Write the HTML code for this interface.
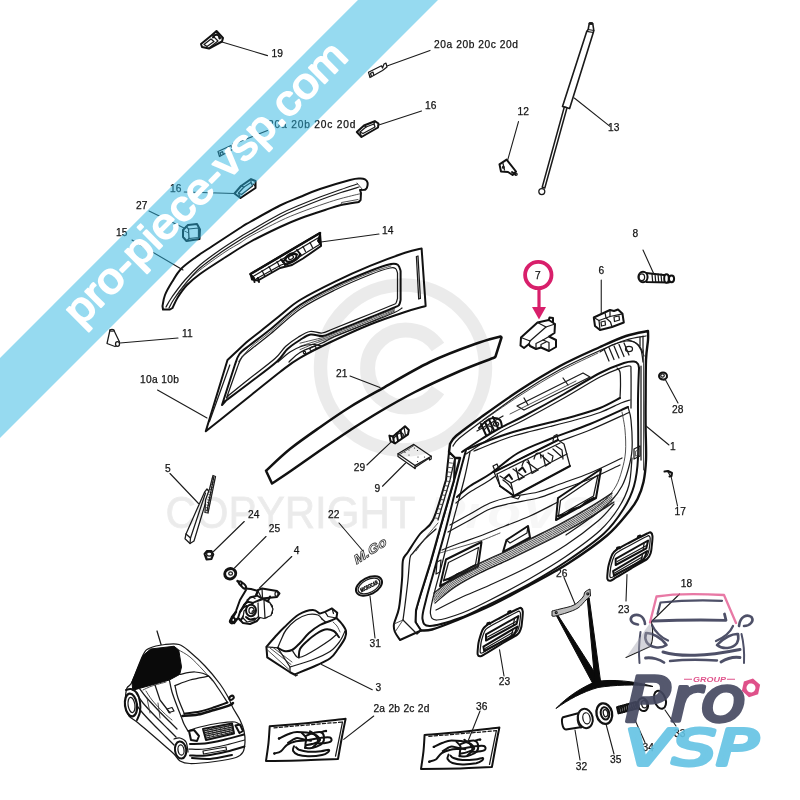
<!DOCTYPE html>
<html><head><meta charset="utf-8"><title>pro-piece-vsp.com</title>
<style>
html,body{margin:0;padding:0;background:#fff;}
body{width:800px;height:800px;overflow:hidden;font-family:"Liberation Sans",sans-serif;}
svg{display:block;filter:blur(0.4px)}
.l{fill:none;stroke:#1a1a1a;stroke-width:1.25;stroke-linejoin:round;stroke-linecap:round}
.lw{fill:#fff;stroke:#1a1a1a;stroke-width:1.25;stroke-linejoin:round;stroke-linecap:round}
.l2{fill:none;stroke:#111;stroke-width:2;stroke-linejoin:round;stroke-linecap:round}
.l2w{fill:#fff;stroke:#111;stroke-width:2;stroke-linejoin:round;stroke-linecap:round}
.l3{fill:none;stroke:#111;stroke-width:2.5;stroke-linejoin:round;stroke-linecap:round}
.th{fill:none;stroke:#333;stroke-width:0.85;stroke-linejoin:round;stroke-linecap:round}
.ld{fill:none;stroke:#1c1c1c;stroke-width:1.1;stroke-linecap:round}
.g{fill:#bdbdbd;stroke:#1a1a1a;stroke-width:1;stroke-linejoin:round}
.bk{fill:#0a0a0a;stroke:#0a0a0a;stroke-width:1;stroke-linejoin:round}
.t{font-family:"Liberation Sans",sans-serif;font-size:10.2px;fill:#141414;stroke:#141414;stroke-width:0.25px}
.wm{font-family:"Liberation Sans",sans-serif;fill:#e4e4e4}
.nv{fill:none;stroke:#3b3e58;stroke-linecap:round;stroke-linejoin:round}
</style></head><body>
<svg width="800" height="800" viewBox="0 0 800 800">
<rect width="800" height="800" fill="#fff"/>
<g id="p15">
<path class="l2w" d="M162.5,306.0 C162.9,304.2 163.4,299.0 165.0,295.0 C166.6,291.0 169.3,286.3 172.0,282.0 C174.7,277.7 177.0,273.2 181.0,269.0 C185.0,264.8 190.8,260.8 196.0,257.0 C201.2,253.2 205.2,250.8 212.5,246.0 C219.8,241.2 233.8,232.0 240.0,228.0 C246.2,224.0 243.3,225.8 250.0,222.0 C256.7,218.2 271.7,209.7 280.0,205.5 C288.3,201.3 293.3,199.8 300.0,197.0 C306.7,194.2 311.7,191.8 320.0,189.0 C328.3,186.2 343.3,181.8 350.0,180.0 C356.7,178.2 357.5,178.6 360.0,178.5 C362.5,178.4 363.8,178.7 365.0,179.4 C366.2,180.1 367.2,181.2 367.5,182.5 C367.8,183.8 367.4,186.3 367.0,187.5 C366.6,188.7 365.3,189.4 365.0,189.8 L360,190 L361,193 L360.6,200 L358.75,202 L358.8,202.0 C355.8,202.5 346.6,203.7 341.0,205.0 C335.4,206.3 331.8,207.8 325.0,210.0 C318.2,212.2 307.5,215.7 300.0,218.5 C292.5,221.3 288.3,223.1 280.0,227.0 C271.7,230.9 259.2,236.9 250.0,242.0 C240.8,247.1 233.3,252.2 225.0,257.5 C216.7,262.8 206.3,269.4 200.0,274.0 C193.7,278.6 190.7,281.2 187.0,285.0 C183.3,288.8 180.4,293.2 178.0,297.0 C175.6,300.8 173.4,306.2 172.5,308.0 L170,309.5 L163,309.5 L162.5,306Z" />
<path class="l" d="M357.5,184.0 C354.8,184.9 347.2,187.3 341.0,189.5 C334.8,191.7 326.8,194.4 320.0,197.0 C313.2,199.6 306.7,202.2 300.0,205.0 C293.3,207.8 288.3,209.7 280.0,214.0 C271.7,218.3 256.7,227.2 250.0,231.0 C243.3,234.8 245.0,233.8 240.0,237.0 C235.0,240.2 226.7,245.3 220.0,250.0 C213.3,254.7 205.8,260.0 200.0,265.0 C194.2,270.0 189.7,274.7 185.0,280.0 C180.3,285.3 175.2,292.5 172.0,297.0 C168.8,301.5 167.0,305.3 166.0,307.0" />
<path class="l" d="M359.0,187.0 C356.0,187.9 347.5,190.3 341.0,192.5 C334.5,194.7 326.8,197.4 320.0,200.0 C313.2,202.6 306.7,205.2 300.0,208.0 C293.3,210.8 288.3,212.7 280.0,217.0 C271.7,221.3 256.7,230.2 250.0,234.0 C243.3,237.8 245.0,236.8 240.0,240.0 C235.0,243.2 226.7,248.3 220.0,253.0 C213.3,257.7 205.7,263.0 200.0,268.0 C194.3,273.0 190.3,277.8 186.0,283.0 C181.7,288.2 176.8,294.8 174.0,299.0 C171.2,303.2 169.8,306.5 169.0,308.0" />
<path class="th" d="M360.0,193.8 C356.8,194.5 346.8,196.9 341.0,198.5 C335.2,200.1 331.8,201.2 325.0,203.5 C318.2,205.8 307.5,209.6 300.0,212.5 C292.5,215.4 288.3,217.0 280.0,221.0 C271.7,225.0 256.7,232.8 250.0,236.5 C243.3,240.2 244.2,240.4 240.0,243.0 C235.8,245.6 231.7,247.5 225.0,252.0 C218.3,256.5 206.3,265.0 200.0,270.0 C193.7,275.0 190.8,277.8 187.0,282.0 C183.2,286.2 178.7,292.8 177.0,295.0" />
<path class="th" d="M357.0,183.0 L362.5,189.5" />
<path class="th" d="M341.0,205.0 L341.5,202.5 L358.0,199.5" />
</g>
<g id="p10">
<path class="l2w" d="M205.75,431.25 L227.5,360 L235.0,353.0 C237.2,351.0 243.5,344.8 248.0,341.0 C252.5,337.2 256.7,334.2 262.0,330.0 C267.3,325.8 273.7,320.5 280.0,315.5 C286.3,310.5 290.8,305.6 300.0,300.0 C309.2,294.4 323.3,287.3 335.0,281.6 C346.7,275.9 358.3,270.7 370.0,265.9 C381.7,261.1 396.4,255.7 405.0,252.8 C413.6,249.8 418.8,249.1 421.6,248.4 L425.65,306 L425.6,306.0 C422.2,307.0 414.3,308.9 405.0,312.0 C395.7,315.1 381.7,319.8 370.0,324.5 C358.3,329.2 346.7,334.5 335.0,340.0 C323.3,345.5 309.2,352.4 300.0,357.8 C290.8,363.1 288.3,365.6 280.0,372.0 C271.7,378.4 259.2,388.7 250.0,396.0 C240.8,403.3 232.4,410.1 225.0,416.0 C217.6,421.9 209.0,428.7 205.8,431.2Z" />
<path class="l" d="M229.8,365.0 L209.5,421.5" />
<path class="l2" d="M235.0,364.5 C235.8,362.8 237.0,357.2 239.5,354.0 C242.0,350.8 245.0,349.0 250.0,345.0 C255.0,341.0 261.2,336.7 269.5,330.0 C277.8,323.3 289.1,312.3 300.0,305.0 C310.9,297.7 323.3,291.7 335.0,286.0 C346.7,280.3 360.7,274.7 370.0,271.0 C379.3,267.3 386.3,265.0 391.0,264.0 C395.7,263.0 396.4,263.8 398.0,265.0 C399.6,266.2 400.2,270.0 400.6,271.0 L400.6,300 L400.6,300.0 C400.3,300.8 400.0,303.8 399.0,305.0 C398.0,306.2 399.3,305.4 394.5,307.5 C389.7,309.6 379.9,313.5 370.0,317.5 C360.1,321.5 342.9,328.4 335.0,331.5 C327.1,334.6 326.8,335.5 322.8,336.0 C318.7,336.5 314.3,333.8 310.5,334.5 C306.7,335.2 303.8,337.6 300.0,340.0 C296.2,342.4 291.3,345.4 287.5,349.0 C283.7,352.6 283.2,355.9 277.0,361.5 C270.8,367.1 258.5,376.0 250.0,382.5 C241.5,389.0 230.0,397.5 226.0,400.5 L222,405 L235,364.5Z" />
<path class="l" d="M237.5,367.0 C238.2,365.3 239.6,360.1 242.0,357.0 C244.4,353.9 247.2,352.4 252.0,348.5 C256.8,344.6 262.8,340.2 271.0,333.5 C279.2,326.8 290.2,315.8 301.0,308.5 C311.8,301.2 324.4,295.2 336.0,289.5 C347.6,283.8 361.5,278.1 370.5,274.5 C379.5,270.9 385.8,269.0 390.0,268.0 C394.2,267.0 394.2,267.7 395.5,268.5 C396.8,269.3 397.2,272.2 397.5,273.0 L397.5,298.5 L397.5,298.5 C397.2,299.2 396.8,301.9 396.0,303.0 C395.2,304.1 397.0,303.1 392.5,305.0 C388.0,306.9 378.8,310.6 369.0,314.5 C359.2,318.4 341.8,325.4 334.0,328.5 C326.2,331.6 326.0,332.5 322.0,333.0 C318.0,333.5 313.9,330.8 310.0,331.5 C306.1,332.2 302.6,334.5 298.5,337.0 C294.4,339.5 289.4,342.9 285.5,346.5 C281.6,350.1 281.1,353.1 275.0,358.5 C268.9,363.9 256.8,372.8 249.0,379.0 C241.2,385.2 231.9,392.8 228.5,395.5 L226.5,398 L237.5,367Z" />
<path class="th" d="M238.5,361.5 C240.6,359.1 245.7,351.9 251.0,347.0 C256.3,342.1 262.2,338.5 270.5,331.8 C278.8,325.1 289.7,314.1 300.5,306.8 C311.3,299.5 323.9,293.5 335.5,287.8 C347.1,282.1 360.9,276.4 370.2,272.8 C379.4,269.2 387.5,267.1 391.0,266.0" />
<path class="th" d="M300.0,343.2 C302.0,342.7 308.2,341.1 312.0,340.2 C315.8,339.2 318.9,338.7 322.8,337.5 C326.6,336.3 327.1,336.1 335.0,333.0 C342.9,329.9 360.1,323.1 370.0,319.0 C379.9,314.9 390.4,310.4 394.5,308.7" />
<path class="th" d="M300.0,346.4 C302.0,345.7 308.2,343.6 312.0,342.4 C315.8,341.2 318.9,340.3 322.8,339.0 C326.6,337.7 327.1,337.6 335.0,334.5 C342.9,331.4 360.1,324.6 370.0,320.5 C379.9,316.4 390.4,311.7 394.5,309.9" />
<path class="th" d="M300.0,349.6 C302.0,348.8 308.2,346.1 312.0,344.6 C315.8,343.1 318.9,341.9 322.8,340.5 C326.6,339.1 327.1,339.1 335.0,336.0 C342.9,332.9 360.1,326.1 370.0,322.0 C379.9,317.9 390.4,312.9 394.5,311.1" />
<path class="l" d="M289.0,362.0 C290.8,360.4 294.5,355.7 300.0,352.5 C305.5,349.3 316.2,345.7 322.0,343.0 C327.8,340.3 327.0,339.9 335.0,336.5 C343.0,333.1 360.1,326.5 370.0,322.5 C379.9,318.5 389.2,314.9 394.5,312.5 C399.8,310.1 400.8,308.8 402.0,308.0" />
<path class="l" d="M278.0,362.0 C280.0,360.3 286.2,354.6 290.0,352.0 C293.8,349.4 297.3,347.8 301.0,346.5 C304.7,345.2 308.5,344.6 312.0,344.5 C315.5,344.4 320.3,345.8 322.0,346.0" />
<ellipse cx="313" cy="348.5" rx="3.2" ry="1.8" class="l" transform="rotate(-20 313 348.5)"/>
<circle cx="304.5" cy="352.5" r="1.2" class="l"/>
<path class="l" d="M416.4,256.5 L418.0,256.0 L420.4,298.5 L418.7,299.0Z" />
</g>
<g id="p21">
<path class="l3" d="M266.0,470.8 C270.0,467.1 281.0,456.2 290.0,449.0 C299.0,441.8 310.0,434.2 320.0,427.2 C330.0,420.2 340.0,413.2 350.0,407.0 C360.0,400.8 366.7,397.2 380.0,389.8 C393.3,382.2 414.2,369.6 430.0,362.0 C445.8,354.4 463.2,348.2 475.0,344.0 C486.8,339.8 496.2,337.8 500.5,336.5 L501.5,337.5 L495.5,356.5 L494.5,357.5 L494.5,357.5 C488.8,359.8 473.2,365.2 460.0,371.0 C446.8,376.8 428.3,385.2 415.0,392.0 C401.7,398.8 390.8,405.1 380.0,411.5 C369.2,417.9 360.0,423.8 350.0,430.2 C340.0,436.8 330.0,443.6 320.0,450.5 C310.0,457.4 298.0,466.0 290.0,471.5 C282.0,477.0 275.0,481.5 272.0,483.5 L266,470.75Z" />
</g>
<g id="p1">
<path class="l2w" d="M450.0,444.0 C451.0,442.7 451.0,440.3 456.0,436.0 C461.0,431.7 469.3,425.7 480.0,418.0 C490.7,410.3 506.7,398.7 520.0,390.0 C533.3,381.3 546.7,373.2 560.0,366.0 C573.3,358.8 589.0,352.0 600.0,347.0 C611.0,342.0 618.0,338.7 626.0,336.0 C634.0,333.3 644.3,331.8 648.0,331.0 L648.0,331.0 C648.0,332.5 648.3,335.2 648.0,340.0 C647.7,344.8 646.4,350.0 646.0,360.0 C645.6,370.0 645.7,388.7 645.6,400.0 C645.5,411.3 645.5,418.0 645.6,428.0 C645.7,438.0 646.4,451.0 646.0,460.0 C645.6,469.0 644.9,475.5 643.5,482.0 C642.1,488.5 639.9,494.1 637.5,499.0 C635.1,503.9 634.1,505.4 629.0,511.5 C623.9,517.6 617.2,526.8 607.0,535.5 C596.8,544.2 580.8,555.2 568.0,563.5 C555.2,571.8 542.7,578.1 530.0,585.0 C517.3,591.9 504.5,599.0 492.0,605.0 C479.5,611.0 465.0,616.9 455.0,621.0 C445.0,625.1 437.7,627.9 432.0,629.5 C426.3,631.1 422.8,630.3 421.0,630.5 L421.0,630.5 C420.1,629.1 416.3,625.4 415.5,622.0 C414.7,618.6 415.2,614.3 416.0,610.0 C416.8,605.7 417.7,603.7 420.0,596.0 C422.3,588.3 426.5,575.8 430.0,564.0 C433.5,552.2 437.0,539.0 441.0,525.0 C445.0,511.0 450.8,491.2 454.0,480.0 C457.2,468.8 459.0,461.7 460.0,458.0 L455,458 L449,452Z" style="stroke-width:2.4"/>
<path class="l2w" d="M449.0,452.0 L446.0,480.0 L446.0,480.0 C443.8,486.7 437.3,511.0 433.0,520.0 C428.7,529.0 424.2,528.7 420.0,534.0 C415.8,539.3 410.8,547.7 408.0,552.0 C405.2,556.3 404.0,555.3 403.0,560.0 C402.0,564.7 402.7,572.0 402.0,580.0 C401.3,588.0 400.3,600.7 399.0,608.0 C397.7,615.3 394.7,620.0 394.0,624.0 C393.3,628.0 394.0,629.3 395.0,632.0 C396.0,634.7 399.2,638.7 400.0,640.0 L421,630.5 L415.5,622 L416,610 L420,596 L430,564 L441,525 L454,480 L455,458Z" />
<path class="l" d="M455.0,458.0 L450.0,480.0 L438.0,520.0" />
<path class="th" d="M448.7,458.0 L452.9,458.6" />
<path class="th" d="M448.2,462.6 L452.4,463.2" />
<path class="th" d="M447.7,467.2 L451.9,467.8" />
<path class="th" d="M447.2,471.8 L451.4,472.4" />
<path class="th" d="M446.7,476.4 L450.9,477.0" />
<path class="th" d="M446.0,481.0 L450.2,481.6" />
<path class="th" d="M444.5,485.6 L448.7,486.2" />
<path class="th" d="M443.0,490.2 L447.2,490.8" />
<path class="th" d="M441.5,494.8 L445.7,495.4" />
<path class="th" d="M440.0,499.4 L444.2,500.0" />
<path class="th" d="M438.5,504.0 L442.7,504.6" />
<path class="th" d="M437.0,508.6 L441.2,509.2" />
<path class="th" d="M435.5,513.2 L439.7,513.8" />
<path class="th" d="M434.0,517.8 L438.2,518.4" />
<path class="l" d="M436.0,529.0 C434.0,530.8 427.8,536.0 424.0,540.0 C420.2,544.0 415.3,550.0 413.0,553.0 C410.7,556.0 410.8,553.5 410.0,558.0 C409.2,562.5 408.8,572.2 408.0,580.0 C407.2,587.8 405.8,598.3 405.0,605.0 C404.2,611.7 403.3,617.5 403.0,620.0" />
<path class="l" d="M403.0,620.0 L417.0,634.0 L421.0,630.5" />
<path class="th" d="M403.0,620.0 L395.0,632.0" />
<path class="th" d="M394.0,624.0 L403.0,620.0" />
<path class="th" d="M438.0,523.0 C436.2,525.2 430.7,531.3 427.0,536.0 C423.3,540.7 417.8,548.5 416.0,551.0" />
<path class="l2" d="M466.0,450.0 C464.7,455.0 461.3,467.0 458.0,480.0 C454.7,493.0 449.7,514.0 446.0,528.0 C442.3,542.0 439.3,552.0 436.0,564.0 C432.7,576.0 428.2,590.8 426.0,600.0 C423.8,609.2 421.8,614.7 422.5,619.0 C423.2,623.3 423.8,626.2 430.0,626.0 C436.2,625.8 451.0,621.2 460.0,618.0 C469.0,614.8 472.3,612.8 484.0,607.0 C495.7,601.2 516.2,591.2 530.0,583.5 C543.8,575.8 554.7,569.3 567.0,561.0 C579.3,552.7 594.6,542.2 604.0,533.5 C613.4,524.8 618.5,516.9 623.5,509.0 C628.5,501.1 631.6,494.5 634.0,486.0 C636.4,477.5 637.3,472.3 638.0,458.0 C638.7,443.7 637.8,415.0 638.0,400.0 C638.2,385.0 638.8,373.3 639.0,368.0" />
<path class="l" d="M470.0,452.0 C469.0,456.7 467.0,467.8 464.0,480.0 C461.0,492.2 455.7,511.0 452.0,525.0 C448.3,539.0 445.2,551.8 442.0,564.0 C438.8,576.2 434.9,589.7 433.0,598.0 C431.1,606.3 429.8,610.3 430.5,614.0 C431.2,617.7 431.8,620.2 437.0,620.0 C442.2,619.8 453.2,616.3 462.0,613.0 C470.8,609.7 478.7,605.8 490.0,600.0 C501.3,594.2 517.5,585.7 530.0,578.5 C542.5,571.3 553.3,565.0 565.0,557.0 C576.7,549.0 591.1,538.7 600.0,530.5 C608.9,522.3 613.7,515.6 618.5,508.0 C623.3,500.4 626.8,493.3 629.0,485.0 C631.2,476.7 631.5,462.5 632.0,458.0" />
<path class="l" d="M453.0,446.0 C454.0,444.8 454.2,442.7 459.0,438.5 C463.8,434.3 471.7,428.6 482.0,421.0 C492.3,413.4 507.8,401.7 521.0,393.0 C534.2,384.3 547.8,376.1 561.0,369.0 C574.2,361.9 589.2,355.3 600.0,350.5 C610.8,345.7 618.3,342.4 626.0,340.0 C633.7,337.6 642.7,336.7 646.0,336.0" />
<path class="l2" d="M462.0,452.0 C465.0,450.0 473.7,444.0 480.0,440.0 C486.3,436.0 492.7,432.0 500.0,428.0 C507.3,424.0 513.3,421.7 524.0,416.0 C534.7,410.3 551.3,401.2 564.0,394.0 C576.7,386.8 590.0,378.2 600.0,373.0 C610.0,367.8 618.3,364.9 624.0,363.0 C629.7,361.1 631.7,361.4 634.0,361.6 C636.3,361.8 637.2,362.9 638.0,364.0 C638.8,365.1 638.8,367.3 639.0,368.0" />
<path class="l" d="M466.0,454.0 C471.7,450.3 490.3,437.7 500.0,432.0 C509.7,426.3 513.3,425.7 524.0,420.0 C534.7,414.3 551.3,405.2 564.0,398.0 C576.7,390.8 590.3,382.1 600.0,377.0 C609.7,371.9 617.0,369.3 622.0,367.5 C627.0,365.7 628.5,365.2 630.0,366.0 C631.5,366.8 630.8,365.0 631.0,372.0 C631.2,379.0 631.0,402.0 631.0,408.0" />
<path class="l2" d="M468.0,449.0 C471.7,447.5 483.0,442.7 490.0,440.0 C497.0,437.3 503.3,435.1 510.0,433.0 C516.7,430.9 523.3,429.2 530.0,427.5 C536.7,425.8 542.5,424.4 550.0,422.5 C557.5,420.6 566.7,418.4 575.0,416.0 C583.3,413.6 592.5,411.0 600.0,408.0 C607.5,405.0 616.7,399.7 620.0,398.0" />
<path class="l" d="M474.0,451.0 C476.7,449.9 484.0,446.8 490.0,444.5 C496.0,442.2 503.3,439.2 510.0,437.0 C516.7,434.8 523.3,433.2 530.0,431.5 C536.7,429.8 542.5,428.4 550.0,426.5 C557.5,424.6 566.7,422.3 575.0,420.0 C583.3,417.7 592.3,415.3 600.0,412.5 C607.7,409.7 616.0,405.1 621.0,403.0 C626.0,400.9 628.5,400.5 630.0,400.0" />
<path class="l" d="M620.0,398.0 C620.1,395.8 620.5,389.3 620.5,385.0 C620.5,380.7 620.6,374.8 620.0,372.0 C619.4,369.2 617.5,368.7 617.0,368.0" />
<path class="l" d="M517.0,406.0 L583.0,373.0 L590.0,377.0 L524.0,410.0Z" />
<path class="l" d="M524.0,398.0 L528.0,405.0" />
<path class="l" d="M563.0,378.0 L568.0,385.0" />
<path class="th" d="M478.0,424.0 C485.0,419.2 506.3,404.2 520.0,395.5 C533.7,386.8 547.0,378.6 560.0,371.5 C573.0,364.4 591.7,356.1 598.0,353.0" />
<path class="th" d="M510.0,414.0 L576.0,381.0" />
<path class="l2" d="M481.0,424.0 L486.0,435.0" />
<path class="l2" d="M485.0,422.0 L490.0,433.0" />
<path class="l2" d="M489.0,419.5 L494.0,430.5" />
<path class="l2" d="M493.0,417.0 L498.0,428.0" />
<path class="l2" d="M479.0,428.0 C480.0,427.0 482.7,423.7 485.0,422.0 C487.3,420.3 490.5,418.3 493.0,418.0 C495.5,417.7 498.5,418.5 500.0,420.0 C501.5,421.5 501.7,425.8 502.0,427.0" />
<path class="l" d="M477.0,431.0 L503.0,416.0" />
<path class="l" d="M484.0,430.0 C484.7,429.3 486.7,426.3 488.0,426.0 C489.3,425.7 491.5,426.8 492.0,428.0 C492.5,429.2 491.2,432.2 491.0,433.0" />
<ellipse cx="496" cy="424" rx="2.6" ry="2" class="l"/>
<path class="l" d="M604.0,349.0 L609.0,361.0" />
<path class="l" d="M609.0,347.5 L614.0,359.5" />
<path class="l" d="M614.0,346.0 L619.0,358.0" />
<path class="l" d="M619.0,344.5 L624.0,356.5" />
<path class="l" d="M624.0,343.0 L629.0,355.0" />
<path class="l" d="M600.0,352.0 C602.0,350.8 607.7,346.8 612.0,345.0 C616.3,343.2 622.3,341.5 626.0,341.0 C629.7,340.5 631.7,341.0 634.0,342.0 C636.3,343.0 638.3,344.7 640.0,347.0 C641.7,349.3 643.3,354.5 644.0,356.0" />
<path class="l" d="M628.0,340.0 C629.3,340.5 633.8,341.3 636.0,343.0 C638.2,344.7 639.8,346.8 641.0,350.0 C642.2,353.2 642.7,360.0 643.0,362.0" />
<ellipse cx="629" cy="349" rx="3.5" ry="2.6" class="l"/>
<path class="l" d="M640.0,337.0 L640.0,346.0" />
<path class="l" d="M643.0,336.0 L643.0,352.0" />
<path class="l" d="M641.0,366.0 L641.0,460.0" />
<path class="th" d="M643.5,350.0 L643.5,470.0" />
</g>
<g id="p1i">
<path class="l2" d="M457.0,497.0 C459.2,495.2 464.5,489.8 470.0,486.0 C475.5,482.2 482.0,479.5 490.0,474.0 C498.0,468.5 508.0,458.8 518.0,453.0 C528.0,447.2 538.0,443.8 550.0,439.0 C562.0,434.2 577.0,429.3 590.0,424.0 C603.0,418.7 621.7,409.8 628.0,407.0" />
<path class="l" d="M456.0,503.0 C458.3,501.2 464.3,495.8 470.0,492.0 C475.7,488.2 482.0,485.3 490.0,480.0 C498.0,474.7 508.0,465.8 518.0,460.0 C528.0,454.2 538.0,450.0 550.0,445.0 C562.0,440.0 576.8,435.4 590.0,430.0 C603.2,424.6 622.5,415.4 629.0,412.5" />
<path class="l" d="M628.0,407.0 C628.5,409.2 630.3,412.8 631.0,420.0 C631.7,427.2 632.5,441.7 632.0,450.0 C631.5,458.3 629.7,464.0 628.0,470.0 C626.3,476.0 624.7,481.0 622.0,486.0 C619.3,491.0 616.3,495.3 612.0,500.0 C607.7,504.7 603.7,508.2 596.0,514.0 C588.3,519.8 571.0,531.5 566.0,535.0" />
<path class="th" d="M622.0,412.0 C622.5,415.0 624.4,423.3 625.0,430.0 C625.6,436.7 626.0,445.3 625.5,452.0 C625.0,458.7 623.6,464.3 622.0,470.0 C620.4,475.7 618.7,481.2 616.0,486.0 C613.3,490.8 610.0,494.8 606.0,499.0 C602.0,503.2 594.3,509.0 592.0,511.0" />
<path class="l" d="M450.0,525.0 C453.3,523.2 463.3,517.7 470.0,514.0 C476.7,510.3 483.3,505.8 490.0,503.0 C496.7,500.2 502.0,498.8 510.0,497.0 C518.0,495.2 529.7,494.2 538.0,492.0 C546.3,489.8 551.3,487.2 560.0,484.0 C568.7,480.8 579.7,477.3 590.0,473.0 C600.3,468.7 616.7,460.5 622.0,458.0" />
<path class="l" d="M448.0,532.0 C451.7,530.0 463.0,523.8 470.0,520.0 C477.0,516.2 483.3,511.8 490.0,509.0 C496.7,506.2 502.0,505.3 510.0,503.5 C518.0,501.7 529.7,500.2 538.0,498.0 C546.3,495.8 551.3,493.2 560.0,490.0 C568.7,486.8 580.0,483.2 590.0,479.0 C600.0,474.8 615.0,467.3 620.0,465.0" />
<path class="l" d="M442.0,550.0 C445.0,548.8 453.7,545.3 460.0,543.0 C466.3,540.7 472.5,538.8 480.0,536.0 C487.5,533.2 496.7,529.3 505.0,526.0 C513.3,522.7 521.2,520.0 530.0,516.0 C538.8,512.0 553.3,504.3 558.0,502.0" />
<path class="th" d="M440.0,553.0 C443.3,552.0 453.3,549.0 460.0,547.0 C466.7,545.0 473.3,543.3 480.0,541.0 C486.7,538.7 496.7,534.3 500.0,533.0" />
<path class="l2" d="M446.0,559.5 L481.5,542.0 L478.0,566.5 L440.0,586.0Z" />
<path class="l" d="M448.5,562.5 L478.5,547.5 L475.5,564.5 L443.5,581.0Z" />
<path class="l2" d="M444.5,580.0 C445.8,579.7 449.8,579.0 452.0,578.0 C454.2,577.0 456.0,574.9 458.0,574.0 C460.0,573.1 462.0,573.5 464.0,572.5 C466.0,571.5 468.1,569.2 470.0,568.0 C471.9,566.8 474.6,565.9 475.5,565.5" />
<path class="l2" d="M558.0,498.0 L601.0,469.0 L596.0,498.0 L556.0,520.0Z" />
<path class="l" d="M560.5,500.5 L598.0,475.0 L593.5,496.0 L558.5,516.0Z" />
<path class="l2" d="M558.0,516.0 C559.3,515.7 563.7,515.1 566.0,514.0 C568.3,512.9 569.7,510.7 572.0,509.5 C574.3,508.3 577.7,508.2 580.0,507.0 C582.3,505.8 583.7,503.5 586.0,502.0 C588.3,500.5 592.7,498.7 594.0,498.0" />
<path class="l2" d="M503.0,552.0 L506.5,540.0 L528.0,526.0 L530.0,537.5Z" />
<path class="l" d="M506.5,540.0 L510.0,543.0 L527.0,533.0 L528.0,526.0" />
<path class="th" d="M434.0,594.0 C437.5,591.2 447.3,582.5 455.0,577.5 C462.7,572.5 471.7,568.2 480.0,564.0 C488.3,559.8 496.7,556.5 505.0,552.5 C513.3,548.5 520.8,544.6 530.0,540.0 C539.2,535.4 550.0,530.3 560.0,525.0 C570.0,519.7 581.3,513.2 590.0,508.0 C598.7,502.8 608.3,496.3 612.0,494.0" />
<path class="th" d="M434.0,595.5 C437.5,592.8 447.3,584.2 455.0,579.2 C462.7,574.2 471.7,569.9 480.0,565.7 C488.3,561.5 496.7,558.2 505.0,554.2 C513.3,550.2 520.8,546.3 530.0,541.7 C539.2,537.1 550.0,532.0 560.0,526.7 C570.0,521.4 581.3,514.9 590.0,509.7 C598.7,504.5 608.3,498.0 612.0,495.7" />
<path class="th" d="M434.0,597.1 C437.5,594.4 447.3,585.8 455.0,580.9 C462.7,576.0 471.7,571.6 480.0,567.4 C488.3,563.2 496.7,559.9 505.0,555.9 C513.3,551.9 520.8,548.0 530.0,543.4 C539.2,538.8 550.0,533.7 560.0,528.4 C570.0,523.1 581.3,516.6 590.0,511.4 C598.7,506.2 608.3,499.7 612.0,497.4" />
<path class="th" d="M434.0,598.6 C437.5,595.9 447.3,587.5 455.0,582.6 C462.7,577.7 471.7,573.3 480.0,569.1 C488.3,564.9 496.7,561.6 505.0,557.6 C513.3,553.6 520.8,549.7 530.0,545.1 C539.2,540.5 550.0,535.4 560.0,530.1 C570.0,524.8 581.3,518.3 590.0,513.1 C598.7,507.9 608.3,501.4 612.0,499.1" />
<path class="th" d="M434.0,600.1 C437.5,597.5 447.3,589.2 455.0,584.3 C462.7,579.4 471.7,575.0 480.0,570.8 C488.3,566.6 496.7,563.3 505.0,559.3 C513.3,555.3 520.8,551.4 530.0,546.8 C539.2,542.2 550.0,537.1 560.0,531.8 C570.0,526.5 581.3,520.0 590.0,514.8 C598.7,509.6 608.3,503.1 612.0,500.8" />
<path class="th" d="M434.0,601.6 C437.5,599.0 447.3,590.9 455.0,586.0 C462.7,581.1 471.7,576.7 480.0,572.5 C488.3,568.3 496.7,565.0 505.0,561.0 C513.3,557.0 520.8,553.1 530.0,548.5 C539.2,543.9 550.0,538.8 560.0,533.5 C570.0,528.2 581.3,521.7 590.0,516.5 C598.7,511.3 608.3,504.8 612.0,502.5" />
<path class="l" d="M434.0,593.0 C437.5,590.2 447.3,581.5 455.0,576.5 C462.7,571.5 471.7,567.2 480.0,563.0 C488.3,558.8 496.7,555.5 505.0,551.5 C513.3,547.5 520.8,543.6 530.0,539.0 C539.2,534.4 550.0,529.3 560.0,524.0 C570.0,518.7 581.3,512.2 590.0,507.0 C598.7,501.8 608.3,495.3 612.0,493.0" />
<path class="l" d="M435.0,603.0 C438.3,600.3 447.5,592.0 455.0,587.0 C462.5,582.0 471.7,577.2 480.0,573.0 C488.3,568.8 496.7,565.4 505.0,561.5 C513.3,557.6 520.8,554.0 530.0,549.5 C539.2,545.0 550.0,539.8 560.0,534.5 C570.0,529.2 581.0,522.9 590.0,517.5 C599.0,512.1 610.0,504.6 614.0,502.0" />
<path class="l" d="M436.0,610.0 C440.0,608.0 451.0,602.2 460.0,598.0 C469.0,593.8 478.3,590.3 490.0,585.0 C501.7,579.7 517.3,572.7 530.0,566.0 C542.7,559.3 554.7,552.5 566.0,545.0 C577.3,537.5 590.0,527.8 598.0,521.0 C606.0,514.2 611.3,506.8 614.0,504.0" />
<path class="lw" d="M494.0,472.0 L558.0,440.0 L564.0,444.0 L570.0,466.0 L514.0,496.0 L500.0,486.0Z" />
<path class="l" d="M500.0,486.0 L497.0,474.0" />
<path class="l" d="M497.0,474.0 L560.0,443.0" />
<path class="l" d="M514.0,496.0 L511.0,483.0 L567.0,454.0" />
<path class="l" d="M511.0,483.0 L500.0,476.0" />
<path class="l" d="M524.0,477.0 L513.0,469.0" />
<path class="l" d="M538.0,470.0 L527.0,462.0" />
<path class="l" d="M550.0,463.0 L541.0,455.0" />
<path class="l" d="M562.0,457.0 L553.0,449.0" />
<path class="l" d="M516.0,468.0 L519.0,480.0 L524.0,477.0" />
<path class="l" d="M529.0,462.0 L532.0,473.5 L538.0,470.0" />
<path class="l" d="M543.0,455.0 L545.5,466.0 L550.0,463.0" />
<path class="l" d="M522.0,466.0 C522.3,465.2 523.0,462.0 524.0,461.0 C525.0,460.0 527.2,459.5 528.0,460.0 C528.8,460.5 528.8,463.3 529.0,464.0" />
<path class="l" d="M534.0,459.0 C534.3,458.2 535.0,454.9 536.0,454.0 C537.0,453.1 539.2,452.8 540.0,453.5 C540.8,454.2 540.8,457.2 541.0,458.0" />
<path class="l" d="M553.0,441.0 L554.0,436.0 L557.0,434.5 L558.0,440.0" />
<path class="l" d="M495.0,471.0 L493.0,466.0 L497.0,464.0 L499.0,469.0" />
<path class="l" d="M520.0,496.0 L518.0,499.0 L512.0,497.0" />
<path class="l2" d="M494.0,472.0 L558.0,440.0" />
<path class="l2" d="M514.0,496.0 L570.0,466.0" />
<path class="l2" d="M500.0,486.0 L514.0,496.0" />
<path class="l" d="M503.0,480.0 C503.8,480.7 506.5,482.5 508.0,484.0 C509.5,485.5 511.3,488.2 512.0,489.0" />
<path class="l2" d="M505.0,478.0 L509.0,474.5 L512.0,479.0" />
<path class="l2" d="M519.0,470.5 L522.5,467.5 L525.5,472.0" />
<path class="l" d="M548.0,453.0 L553.0,456.0 L552.0,461.0" />
<path class="l" d="M556.0,446.0 L562.0,450.0 L563.0,459.0" />
<path class="l" d="M634.0,449.0 L640.0,446.0 L640.0,456.0 L634.0,459.0Z" />
<path class="th" d="M636.0,451.0 L638.5,450.0 L638.5,455.0 L636.0,456.0Z" />
<path class="l" d="M437.0,562.0 L441.0,560.0 L440.0,572.0 L436.0,574.0Z" />
</g>
<g id="small1">
<path class="l2w" d="M201.0,44.0 L212.0,35.0 L216.5,31.0 L223.0,38.0 L222.0,41.5 L209.0,48.5 L202.0,47.0Z" />
<path class="l" d="M204.0,44.5 L211.0,39.0 L214.0,41.5 L207.0,46.5Z" />
<path class="l" d="M212.0,35.0 L218.0,41.0 L209.0,48.0" />
<path class="l2" d="M213.0,37.5 C213.3,37.1 214.1,35.3 215.0,35.0 C215.9,34.7 217.8,34.9 218.5,35.5 C219.2,36.1 219.3,38.0 219.5,38.5" />
<path class="l" d="M217.0,33.5 L221.0,38.5" />
<path class="lw" d="M368.5,72.2 L381.5,65.8 L382.5,68.0 L384.0,64.0 L386.0,63.2 L387.0,67.0 L382.5,70.5 L370.0,77.5Z" />
<path class="l" d="M370.5,73.5 L371.5,76.5" />
<path class="l" d="M371.0,73.0 L373.0,72.2 L373.8,75.0" />
<path class="l2w" d="M356.8,132.0 L364.0,125.5 L374.8,121.2 L378.5,123.5 L378.0,127.5 L361.5,137.0Z" />
<path class="l" d="M360.0,132.0 L366.0,127.0 L374.0,124.0 L375.0,127.0 L363.0,133.5Z" />
<path class="l" d="M364.0,125.5 L366.0,127.0" />
<path class="l" d="M374.8,121.2 L374.0,124.0" />
<path class="l" d="M361.5,137.0 L360.0,132.0" />
<path class="lw" d="M218.0,151.5 L231.0,145.5 L232.0,147.5 L233.0,143.5 L235.0,142.7 L236.0,146.5 L231.5,150.0 L219.5,156.5Z" />
<path class="l" d="M220.0,152.8 L221.0,155.5" />
<path class="l" d="M220.5,152.5 L222.5,151.7 L223.3,154.3" />
<path class="l2w" d="M234.5,193.5 L241.0,186.0 L251.0,179.2 L255.5,181.0 L255.5,188.0 L240.5,198.0Z" />
<path class="l" d="M238.5,193.0 L244.0,187.0 L251.0,182.5 L252.5,186.0 L241.5,194.5Z" />
<path class="l" d="M241.0,186.0 L244.0,187.0" />
<path class="l" d="M251.0,179.2 L251.0,182.5" />
<path class="l" d="M240.5,198.0 L238.5,193.0" />
<path class="l" d="M253.0,184.0 L255.5,186.0" />
<path class="l2w" d="M183.0,230.0 L188.0,225.0 L197.0,224.0 L200.0,229.5 L199.5,239.0 L186.5,241.0 L183.0,237.0Z" />
<path class="l" d="M188.5,229.0 L198.5,228.0 L198.5,237.5 L189.0,238.5Z" />
<path class="l" d="M188.5,229.0 L186.0,226.5" />
<path class="l" d="M189.0,238.5 L186.5,241.0" />
<path class="th" d="M184.5,231.0 L188.5,233.0" />
<path class="lw" d="M110.0,330.0 L114.0,330.5 L119.5,342.0 L119.0,345.0 L115.0,346.5 L107.0,343.5Z" />
<ellipse cx="117.5" cy="344" rx="2" ry="2.4" class="lw"/>
<ellipse cx="112" cy="330.3" rx="2.2" ry="0.9" class="lw"/>
</g>
<g id="p14">
<path class="l2w" d="M250.5,274.0 L320.0,233.0 L321.0,246.0 L303.0,258.5 L292.0,265.0 L280.0,268.0 L258.0,280.5 L252.0,279.5Z" />
<path class="l3" d="M250.5,274.0 L320.0,233.0" />
<path class="l" d="M253.0,276.5 L318.0,238.0" />
<path class="bk" d="M320,233 L321,246 L317.5,241Z" />
<path class="bk" d="M250.5,274 L254,277 L252.5,280Z" />
<path class="l2" d="M283.0,262.0 C283.7,261.2 285.5,258.3 287.0,257.0 C288.5,255.7 290.3,254.4 292.0,254.0 C293.7,253.6 296.2,254.4 297.0,254.5" />
<path class="l2" d="M285.0,265.0 C286.2,264.5 289.8,263.2 292.0,262.0 C294.2,260.8 296.7,259.3 298.0,258.0 C299.3,256.7 299.7,254.7 300.0,254.0" />
<path class="l" d="M256.0,279.0 L281.0,265.0 L293.0,261.0 L304.0,254.0 L319.5,244.5" />
<ellipse cx="291" cy="257.5" rx="6" ry="3.6" class="l2" transform="rotate(-28 291 257.5)"/>
<ellipse cx="291" cy="257.5" rx="2.6" ry="1.7" class="l" transform="rotate(-28 291 257.5)"/>
<path class="l" d="M262.0,270.5 L264.5,275.5" />
<path class="l" d="M269.0,266.5 L271.5,271.5" />
<path class="l" d="M277.0,261.5 L279.5,266.5" />
<path class="l" d="M303.0,246.5 L305.5,251.5" />
<path class="l" d="M310.0,242.5 L312.5,247.5" />
<path class="l2" d="M281.0,259.5 L285.0,264.0" />
<path class="l2" d="M297.0,250.0 L301.0,255.0" />
<path class="l2" d="M254.0,278.0 L254.5,282.0" />
<path class="l2" d="M258.0,278.0 L259.0,282.0" />
</g>
<g id="p12">
<path class="l2w" d="M499.5,164.4 L506.6,159.6 L516.0,171.5 L512.6,175.0 L508.0,172.0 L501.0,171.5Z" />
<path class="l" d="M503.0,163.5 L504.5,170.0" />
<circle cx="503.3" cy="167.3" r="0.9" class="l"/>
<path class="l2" d="M512.0,172.0 L515.5,174.5" />
<circle cx="516" cy="174.2" r="1.2" class="l"/>
</g>
<g id="p13">
<path class="lw" d="M589.3,23.2 L592.8,23.8 L593.8,30.5 L593.3,32.5 L569.6,108.6 L562.5,106.5 L586.7,31.4 L588.2,29.5Z" style="stroke-width:1.6"/>
<path class="l" d="M588.2,29.5 L593.8,30.5" />
<path class="l" d="M586.7,31.4 L593.3,32.5" />
<path class="lw" d="M564.3,107.0 L542.2,187.2 L544.8,188.0 L567.0,107.8Z" style="stroke-width:1.5"/>
<circle cx="541.8" cy="191.5" r="3" class="lw"/>
<ellipse cx="591" cy="23.5" rx="1.8" ry="0.8" class="l"/>
</g>
<g id="p7">
<path class="l2w" d="M521.0,337.5 L537.5,322.5 L548.8,320.0 L555.0,324.0 L554.5,333.0 L549.0,336.5 L556.0,340.0 L556.0,347.0 L549.0,351.0 L541.0,347.5 L536.0,349.0 L530.0,346.0 L529.0,344.0 L524.0,348.0 L520.5,345.5Z" />
<path class="l" d="M521.0,337.5 L530.0,341.0 L546.0,327.0 L555.0,324.0" />
<path class="l" d="M530.0,341.0 L529.0,344.0" />
<path class="l" d="M537.5,322.5 L546.0,327.0" />
<path class="l" d="M536.0,349.0 L536.0,343.5 L543.0,340.0 L549.0,342.5 L549.0,351.0" />
<path class="l" d="M543.0,340.0 L549.0,336.5" />
<path class="l" d="M541.0,347.5 L541.0,344.5 L546.0,342.0" />
<path class="l2" d="M548.8,320.0 L549.5,317.5 L553.0,318.0 L553.0,321.5" />
</g>
<g id="p6">
<path class="l2w" d="M593.8,317.5 L610.0,310.0 L614.0,311.0 L618.0,309.5 L622.5,313.8 L623.8,322.5 L612.0,327.0 L600.0,330.0 L595.0,326.0Z" />
<path class="l" d="M593.8,317.5 L599.0,320.5 L610.0,316.5 L622.5,313.8" />
<path class="l" d="M599.0,320.5 L600.0,330.0" />
<path class="l" d="M605.0,312.5 L606.0,318.0 L610.5,322.0 L612.0,327.0" />
<path class="l" d="M610.0,310.0 L610.0,316.5" />
<path class="l" d="M601.0,322.0 L605.0,321.0 L605.5,325.0 L601.5,326.0Z" />
<path class="l" d="M614.0,317.0 L619.0,316.0 L619.5,320.0 L614.5,321.5Z" />
</g>
<g id="p8">
<path class="l2w" d="M646.0,273.0 L668.0,275.5 L669.0,282.5 L646.5,282.0Z" />
<ellipse cx="643" cy="277" rx="4.6" ry="5.2" class="l2w"/>
<ellipse cx="641.8" cy="277.3" rx="2.8" ry="3.4" class="l"/>
<path class="l" d="M652.0,274.0 L652.7,282.0" />
<path class="l" d="M655.0,274.0 L655.7,282.0" />
<path class="l" d="M658.0,274.0 L658.7,282.0" />
<path class="l" d="M661.0,274.0 L661.7,282.0" />
<ellipse cx="666.5" cy="278.5" rx="2.3" ry="4.2" class="l2w"/>
<ellipse cx="671.5" cy="278.8" rx="2.6" ry="3.4" class="l2w"/>
</g>
<g id="p28">
<ellipse cx="663" cy="376" rx="4" ry="3.6" class="l2w"/>
<ellipse cx="662.5" cy="375.5" rx="1.8" ry="1.6" class="l"/>
<path class="l" d="M660.0,378.0 L664.0,380.0 L667.0,377.5" />
<path class="l2" d="M664.5,471.5 L668.0,471.0 L672.0,473.0 L671.5,476.0 L669.5,476.5" />
<path class="l" d="M668.0,472.0 L670.5,476.0" />
</g>
<g id="p29">
<path class="l2w" d="M389.4,435.6 L393.0,436.5 L405.0,426.2 L408.8,430.0 L408.0,434.4 L395.0,443.5 L390.5,441.0Z" />
<path class="l2" d="M393.0,436.5 L394.0,442.5" />
<path class="l2" d="M396.5,433.5 L398.0,440.5" />
<path class="l2" d="M400.5,430.0 L402.0,437.5" />
<path class="l" d="M404.0,427.5 L405.5,435.5" />
<path class="l" d="M394.0,438.0 C394.7,437.3 396.7,434.8 398.0,434.0 C399.3,433.2 401.0,432.7 402.0,433.0 C403.0,433.3 403.7,435.5 404.0,436.0" />
<path class="lw" d="M398.0,453.8 L413.8,444.4 L431.2,456.2 L431.2,459.0 L429.5,460.0 L429.3,458.0 L415.0,467.5 L415.0,468.5 L398.0,456.5Z" />
<path class="l" d="M398.0,453.8 L415.0,465.6 L431.2,456.2" />
<path class="l" d="M415.0,465.6 L415.0,468.5" />
<path class="th" d="M400.5,454.0 L414.0,445.5" />
<circle cx="405" cy="452.5" r="0.6" fill="#222"/>
<circle cx="409" cy="455" r="0.6" fill="#222"/>
<circle cx="414.5" cy="448" r="0.6" fill="#222"/>
<circle cx="417.5" cy="450.5" r="0.6" fill="#222"/>
<circle cx="418" cy="457" r="0.6" fill="#222"/>
<circle cx="417.5" cy="461.5" r="0.6" fill="#222"/>
<circle cx="424.5" cy="457" r="0.6" fill="#222"/>
<circle cx="409" cy="450" r="0.6" fill="#222"/>
</g>
<g id="p5">
<path class="lw" d="M204.5,492.2 L207.0,489.0 L209.0,491.5 L194.0,541.0 L190.0,543.5 L185.0,538.8 L186.0,534.0Z" />
<path class="l" d="M190.0,543.5 L190.5,538.0 L205.5,493.0" />
<path class="l" d="M186.0,534.0 L190.5,538.0" />
<path class="lw" d="M213.0,475.5 L215.5,476.5 L208.0,513.0 L205.0,512.5 L205.5,500.0 L209.5,489.0Z" />
<path class="th" d="M212.0,479.0 L214.6,479.8" />
<path class="th" d="M211.5,481.6 L214.1,482.4" />
<path class="th" d="M211.0,484.2 L213.6,485.0" />
<path class="th" d="M210.4,486.8 L213.0,487.6" />
<path class="th" d="M209.9,489.4 L212.5,490.2" />
<path class="th" d="M209.4,492.0 L212.0,492.8" />
<path class="th" d="M208.9,494.6 L211.5,495.4" />
<path class="th" d="M208.4,497.2 L211.0,498.0" />
<path class="th" d="M207.8,499.8 L210.4,500.6" />
<path class="th" d="M207.3,502.4 L209.9,503.2" />
<path class="th" d="M206.8,505.0 L209.4,505.8" />
<path class="th" d="M206.3,507.6 L208.9,508.4" />
<path class="th" d="M205.8,510.2 L208.4,511.0" />
<path class="l" d="M213.8,477.0 L207.0,511.0" />
</g>
<g id="p24">
<path class="l2w" d="M204.5,554.0 L207.0,551.0 L211.5,551.0 L213.3,554.5 L211.5,559.0 L206.5,559.5Z" />
<ellipse cx="209.2" cy="554" rx="2.6" ry="2" class="l"/>
<path class="l" d="M206.5,556.0 L207.0,559.3" />
<path class="l" d="M211.2,556.5 L211.5,559.0" />
<ellipse cx="230.25" cy="573.75" rx="5.6" ry="5" class="l2w" transform="rotate(-25 230.25 573.75)" style="stroke-width:3"/>
<ellipse cx="230.6" cy="573.5" rx="1.9" ry="1.6" class="l"/>
</g>
<g id="p4">
<path class="l3" d="M237.5,581.0 L246.0,588.0" />
<ellipse cx="241" cy="583.7" rx="1.6" ry="2.6" class="l2w" transform="rotate(-40 241 583.7)"/>
<ellipse cx="243.6" cy="586" rx="1.8" ry="3" class="l2w" transform="rotate(-40 243.6 586)"/>
<path class="l2w" d="M258.0,590.0 L262.0,588.5 L277.0,591.0 L279.5,593.5 L277.0,597.0 L262.0,598.5 L256.0,595.0Z" />
<path class="l" d="M262.0,588.5 L262.5,598.0" />
<ellipse cx="276.5" cy="594" rx="1.5" ry="2.3" class="l"/>
<path class="l2" d="M245.0,588.5 L251.0,589.0 L258.0,591.0 L256.0,596.0 L250.0,597.5 L244.0,605.0 L240.0,612.0 L238.0,618.0 L241.0,620.0 L246.0,612.0 L253.0,603.0 L262.0,599.0 L268.0,601.0 L272.0,606.0 L272.0,613.0 L266.0,617.5 L261.0,616.0 L257.0,621.0 L250.0,624.0 L243.0,623.0 L239.0,619.0" />
<path class="l2" d="M246.0,590.0 L240.0,600.0 L236.0,611.0 L234.0,616.0" />
<path class="lw" d="M253.0,603.0 L263.0,599.5 L270.0,603.0 L273.0,609.0 L271.0,615.5 L264.0,618.5 L258.0,617.0 L254.0,620.5 L247.0,622.0 L243.0,618.0 L244.0,611.0Z" />
<ellipse cx="251" cy="610.5" rx="5" ry="5.8" class="l2w"/>
<ellipse cx="251.5" cy="610.5" rx="2.6" ry="3.2" class="l"/>
<ellipse cx="253.5" cy="612.5" rx="1.5" ry="1.8" class="l"/>
<path class="l" d="M258.0,603.0 L258.5,616.5" />
<path class="l" d="M264.0,600.5 L265.0,618.0" />
<path class="l2" d="M244.0,605.0 C244.7,604.5 246.5,602.3 248.0,602.0 C249.5,601.7 252.2,602.8 253.0,603.0" />
<path class="l2" d="M246.0,617.0 C246.7,617.4 248.5,619.2 250.0,619.5 C251.5,619.8 254.2,618.7 255.0,618.5" />
<path class="l2" d="M268.0,601.0 L270.0,596.5" />
<path class="l" d="M258.0,591.0 L262.0,599.0" />
<path class="l2" d="M240.0,612.0 C240.5,611.3 241.9,609.0 243.0,608.0 C244.1,607.0 245.9,606.3 246.5,606.0" />
<path class="l3" d="M236.0,612.0 L232.0,617.0 L231.0,621.0 L234.0,623.0 L237.0,619.0" />
<ellipse cx="232.5" cy="620.5" rx="2.2" ry="3" class="l2" transform="rotate(35 232.5 620.5)"/>
<path class="l" d="M247.0,600.0 L252.0,596.5 L255.0,598.5" />
</g>
<g id="p22">
<text x="0" y="0" transform="translate(356,565) rotate(-33) skewX(-18)" font-family="'Liberation Sans',sans-serif" font-weight="bold" font-size="12.5px" fill="#fff" stroke="#333" stroke-width="0.75" textLength="37" lengthAdjust="spacingAndGlyphs">M.Go</text>
<g transform="rotate(-27 369 586)">
<ellipse cx="369" cy="586" rx="14" ry="8.2" class="l2w"/>
<ellipse cx="369" cy="586" rx="11.8" ry="6.4" class="l"/>
<text x="359.5" y="588.3" font-family="'Liberation Sans',sans-serif" font-weight="bold" font-size="5.6px" fill="#111" stroke="#111" stroke-width="0.5" textLength="19" lengthAdjust="spacingAndGlyphs">MICROCAR</text>
</g>
</g>
<g id="p3">
<path class="l2w" d="M266.4,646.9 C267.8,645.2 271.9,640.4 275.0,637.0 C278.1,633.6 280.8,630.5 284.8,626.8 C288.7,623.0 294.1,617.3 298.8,614.5 C303.4,611.7 309.2,610.1 312.8,610.0 C316.2,609.9 318.6,613.0 319.8,613.6 L325,611.9 L332,608.4 L337.25,612.75 L336.4,618 L336.4,618.0 C337.3,619.0 340.4,621.8 342.0,624.0 C343.6,626.2 345.5,628.7 346.0,631.0 C346.5,633.3 346.3,635.0 345.0,638.0 C343.7,641.0 340.5,645.6 338.0,649.0 C335.5,652.4 334.5,655.2 330.2,658.2 C326.0,661.2 318.7,664.3 312.8,667.0 C306.8,669.7 297.5,673.2 294.4,674.5 L290,672.25 L267.25,657.4Z" />
<path class="l" d="M266.4,646.9 L277.8,647.8 L290.0,667.0 L290.0,672.2" />
<path class="l" d="M290.0,667.0 C293.7,665.8 305.3,662.6 312.0,660.0 C318.7,657.4 325.3,654.7 330.0,651.5 C334.7,648.3 337.5,644.4 340.0,641.0 C342.5,637.6 344.2,632.7 345.0,631.0" />
<path class="th" d="M267.5,650.0 L289.0,669.5" />
<path class="th" d="M270.0,648.0 L291.0,664.5" />
<path class="th" d="M273.0,647.5 L292.0,662.0" />
<path class="l" d="M277.8,647.8 C278.3,646.5 279.6,643.0 281.0,640.0 C282.4,637.0 283.5,633.3 286.0,630.0 C288.5,626.7 292.3,622.6 296.0,620.0 C299.7,617.4 304.3,615.3 308.0,614.5 C311.7,613.7 315.7,614.2 318.0,615.0 C320.3,615.8 321.3,618.3 322.0,619.0" />
<path class="l2" d="M277.8,647.8 C278.8,648.3 281.6,650.6 284.0,651.0 C286.4,651.4 289.3,651.3 292.0,650.0 C294.7,648.7 297.2,645.8 300.0,643.0 C302.8,640.2 305.7,636.0 309.0,633.0 C312.3,630.0 316.5,627.0 320.0,625.0 C323.5,623.0 327.3,622.2 330.0,621.0 C332.7,619.8 335.3,618.5 336.4,618.0" />
<path class="l2" d="M298.8,657.5 C299.0,656.1 298.5,651.8 300.0,649.0 C301.5,646.2 304.8,643.2 307.5,640.8 C310.2,638.2 313.1,635.9 316.0,634.0 C318.9,632.1 322.0,629.9 325.0,629.4 C328.0,628.9 331.4,629.7 333.8,631.0 C336.1,632.3 338.1,636.2 339.0,637.2" />
<path class="l" d="M292.0,650.0 C292.7,651.0 294.9,654.8 296.0,656.0 C297.1,657.2 297.1,657.7 298.8,657.5 C300.4,657.3 302.8,656.6 306.0,655.0 C309.2,653.4 314.0,650.5 318.0,648.0 C322.0,645.5 326.8,642.3 330.0,640.0 C333.2,637.7 335.8,635.0 337.0,634.0" />
<path class="l" d="M322.0,619.0 C322.7,619.5 324.7,621.7 326.0,622.0 C327.3,622.3 329.3,621.2 330.0,621.0" />
<path class="l" d="M325.0,611.9 L328.0,616.5 L336.4,618.0" />
<path class="l" d="M332.0,608.4 L333.5,613.5" />
<path class="th" d="M333.0,622.0 C333.7,622.7 335.8,624.3 337.0,626.0 C338.2,627.7 339.5,631.0 340.0,632.0" />
<path class="l" d="M294.4,674.5 L295.5,676.0 L297.5,675.0" />
</g>
<g>
<path class="l2w" d="M269.7,726.2 C275.8,725.8 293.4,724.5 306.0,723.2 C318.6,722.0 339.0,719.5 345.6,718.8 L345.6,718.8 C345.0,721.8 343.3,730.0 342.0,736.8 C340.7,743.5 338.7,755.3 338.0,759.0 L338.0,759.0 C332.7,759.2 318.0,759.9 306.0,760.2 C294.0,760.6 272.7,760.9 266.0,761.0 L266.0,761.0 C266.4,758.0 267.9,748.5 268.5,742.8 C269.1,737.0 269.5,729.0 269.7,726.2Z" />
<path class="l" d="M274.0,727.8 L342.5,722.0" stroke-dasharray="3.2 2.2"/>
<path class="l" d="M342.5,722.0 C342.0,724.4 340.7,731.0 339.5,736.8 C338.3,742.5 336.2,753.0 335.5,756.2" />
<path class="l2" d="M279.0,738.5 C280.5,737.8 285.0,735.3 288.0,734.2 C291.0,733.2 292.7,732.0 297.0,732.0 C301.3,732.0 310.2,732.9 314.0,734.2 C317.8,735.6 320.2,738.7 320.0,740.2 C319.8,741.8 315.3,742.9 313.0,743.8 C310.7,744.6 307.2,745.0 306.0,745.2" />
<path class="l2" d="M274.4,753.5 C275.5,753.1 278.9,752.7 281.0,751.2 C283.1,749.8 284.5,746.4 287.0,744.8 C289.5,743.1 292.7,742.0 296.0,741.2 C299.3,740.5 302.8,740.8 307.0,740.2 C311.2,739.7 317.2,738.2 321.0,737.8 C324.8,737.3 328.3,737.0 330.0,737.5 C331.7,738.1 332.0,740.3 331.0,741.2 C330.0,742.2 326.5,742.9 324.0,743.2 C321.5,743.6 317.3,743.2 316.0,743.2" />
<path class="l2" d="M306.0,735.8 C307.3,735.2 311.5,733.3 314.0,732.8 C316.5,732.2 319.3,731.6 321.0,732.2 C322.7,732.9 323.8,734.9 324.0,736.8 C324.2,738.6 323.8,741.6 322.5,743.2 C321.2,744.9 318.1,745.9 316.0,746.8 C313.9,747.6 311.8,748.1 310.0,748.2 C308.2,748.4 306.1,747.8 305.3,747.8" />
<path class="l2" d="M294.0,746.2 C293.8,747.0 292.3,749.3 293.0,750.8 C293.7,752.2 295.5,753.8 298.0,754.8 C300.5,755.7 304.0,756.2 308.0,756.2 C312.0,756.3 318.7,755.7 322.0,755.0 C325.3,754.4 326.9,753.1 328.0,752.2 C329.1,751.4 329.7,749.9 328.5,749.8 C327.3,749.6 324.4,750.9 321.0,751.2 C317.6,751.6 311.7,752.0 308.0,751.8 C304.3,751.5 301.0,750.5 299.0,749.8 C297.0,749.0 296.5,747.7 296.0,747.2" />
<path class="l2" d="M302.0,733.2 C302.7,734.0 305.4,736.0 306.0,737.8 C306.6,739.5 305.6,742.1 305.5,743.8 C305.4,745.4 305.3,747.1 305.3,747.8" />
<path class="l2" d="M310.0,731.2 C311.0,732.0 314.7,734.0 316.0,735.8 C317.3,737.5 318.5,739.8 318.0,741.8 C317.5,743.7 313.8,746.3 313.0,747.2" />
<path class="l2" d="M288.0,742.8 C289.3,742.0 293.5,738.8 296.0,738.2 C298.5,737.7 300.5,738.8 303.0,739.2 C305.5,739.7 309.7,740.5 311.0,740.8" />
<circle cx="279.0" cy="738.5" r="1.2" fill="#111"/>
<circle cx="274.4" cy="753.5" r="1.2" fill="#111"/>
<circle cx="326.0" cy="731.0" r="1.2" fill="#111"/>
<circle cx="305.3" cy="747.8" r="1.2" fill="#111"/>
<path class="l2" d="M321.0,732.2 C321.5,732.1 323.2,731.5 324.0,731.2 C324.8,731.0 325.7,731.1 326.0,731.0" />
</g>
<g>
<path class="l2w" d="M424.6,734.9 C430.6,734.4 447.9,733.2 460.4,731.9 C472.9,730.7 492.9,728.2 499.4,727.5 L499.4,727.5 C498.8,730.5 497.1,738.6 495.9,745.2 C494.6,751.8 492.6,763.5 491.9,767.1 L491.9,767.1 C486.7,767.4 472.2,768.0 460.4,768.4 C448.6,768.7 427.6,769.0 421.0,769.1 L421.0,769.1 C421.4,766.1 422.9,756.8 423.5,751.1 C424.1,745.4 424.4,737.6 424.6,734.9Z" />
<path class="l" d="M428.9,736.4 L496.4,730.7" stroke-dasharray="3.2 2.2"/>
<path class="l" d="M496.4,730.7 C495.9,733.1 494.5,739.6 493.4,745.2 C492.2,750.9 490.1,761.2 489.5,764.4" />
<path class="l2" d="M433.8,746.9 C435.3,746.2 439.7,743.8 442.7,742.8 C445.6,741.7 447.3,740.5 451.5,740.5 C455.8,740.5 464.5,741.4 468.3,742.8 C472.1,744.1 474.4,747.1 474.2,748.7 C474.0,750.2 469.6,751.3 467.3,752.1 C465.0,752.9 461.5,753.4 460.4,753.6" />
<path class="l2" d="M429.3,761.7 C430.4,761.3 433.7,760.9 435.8,759.5 C437.8,758.1 439.2,754.8 441.7,753.1 C444.1,751.5 447.3,750.4 450.6,749.7 C453.8,748.9 457.3,749.3 461.4,748.7 C465.5,748.1 471.4,746.7 475.2,746.2 C479.0,745.8 482.4,745.4 484.0,746.0 C485.7,746.6 486.0,748.7 485.0,749.7 C484.0,750.6 480.6,751.3 478.1,751.6 C475.7,752.0 471.6,751.6 470.2,751.6" />
<path class="l2" d="M460.4,744.2 C461.7,743.8 465.8,741.9 468.3,741.3 C470.7,740.7 473.5,740.1 475.2,740.8 C476.8,741.5 477.9,743.4 478.1,745.2 C478.4,747.0 478.0,750.0 476.7,751.6 C475.3,753.3 472.3,754.3 470.2,755.1 C468.2,755.9 466.1,756.4 464.3,756.6 C462.6,756.7 460.5,756.1 459.7,756.1" />
<path class="l2" d="M448.6,754.6 C448.4,755.3 446.9,757.6 447.6,759.0 C448.3,760.4 450.1,762.1 452.5,763.0 C455.0,763.9 458.4,764.4 462.4,764.4 C466.3,764.5 472.9,763.9 476.2,763.3 C479.4,762.6 481.0,761.4 482.1,760.5 C483.1,759.6 483.7,758.2 482.6,758.0 C481.4,757.9 478.5,759.2 475.2,759.5 C471.8,759.8 466.0,760.3 462.4,760.0 C458.8,759.8 455.5,758.8 453.5,758.0 C451.5,757.3 451.0,756.0 450.6,755.6" />
<path class="l2" d="M456.5,741.8 C457.1,742.5 459.8,744.5 460.4,746.2 C461.0,747.9 460.0,750.5 459.9,752.1 C459.8,753.8 459.7,755.4 459.7,756.1" />
<path class="l2" d="M464.3,739.8 C465.3,740.6 468.9,742.5 470.2,744.2 C471.6,746.0 472.7,748.3 472.2,750.2 C471.7,752.0 468.1,754.7 467.3,755.6" />
<path class="l2" d="M442.7,751.1 C444.0,750.4 448.1,747.3 450.6,746.7 C453.0,746.1 455.0,747.3 457.4,747.7 C459.9,748.1 464.0,748.9 465.3,749.2" />
<circle cx="433.8" cy="746.9" r="1.2" fill="#111"/>
<circle cx="429.3" cy="761.7" r="1.2" fill="#111"/>
<circle cx="480.1" cy="739.6" r="1.2" fill="#111"/>
<circle cx="459.7" cy="756.1" r="1.2" fill="#111"/>
<path class="l2" d="M475.2,740.8 C475.7,740.6 477.3,740.0 478.1,739.8 C479.0,739.6 479.8,739.6 480.1,739.6" />
</g>
<g>
<path class="l2w" d="M486.3,625.6 C488.8,623.9 494.3,621.0 499.0,618.5 C503.7,616.0 514.2,610.6 517.5,609.0 C520.8,607.4 520.2,607.6 521.0,608.0 C521.8,608.4 522.6,609.5 522.8,611.6 C522.9,613.7 522.3,619.5 522.0,622.0 C521.7,624.5 521.7,626.4 521.0,628.2 C520.3,630.1 520.2,632.2 517.5,634.4 C514.8,636.6 507.6,640.2 503.0,643.0 C498.4,645.8 490.2,650.8 486.9,652.8 C483.6,654.7 482.1,656.0 480.8,656.2 C479.4,656.5 478.1,655.9 477.7,654.5 C477.3,653.1 477.8,649.1 478.0,647.0 C478.2,644.9 478.3,643.0 479.0,640.5 C479.7,638.0 481.4,632.2 482.5,630.0 C483.6,627.8 483.8,627.3 486.3,625.6Z" />
<path class="l" d="M487.5,628.0 C489.8,626.4 495.6,623.4 500.0,621.0 C504.4,618.6 514.1,613.4 517.0,612.0 C519.9,610.6 519.0,611.2 519.5,611.5 C520.0,611.8 520.5,612.4 520.5,614.0 C520.5,615.6 520.1,620.0 519.8,622.0 C519.5,624.0 519.4,625.9 518.8,627.5 C518.2,629.1 518.4,630.5 516.0,632.5 C513.6,634.5 507.3,637.9 503.0,640.5 C498.7,643.1 490.6,647.9 487.5,649.8 C484.4,651.7 483.1,652.7 482.0,653.0 C480.9,653.3 480.4,652.9 480.2,652.0 C480.0,651.1 480.3,648.7 480.5,647.0 C480.7,645.3 480.9,642.8 481.5,640.5 C482.1,638.2 483.6,633.4 484.5,631.5 C485.4,629.6 485.2,629.6 487.5,628.0Z" />
<path class="l2" d="M486.0,634.4 L518.4,616.0 L516.6,623.9 L486.0,640.5Z" />
<path class="l2" d="M483.4,646.6 L517.5,626.5 L514.0,635.2 L484.2,651.0Z" />
<path class="l" d="M487.5,637.0 L516.0,621.5" />
<path class="l" d="M514.5,618.2 L513.5,624.5" />
<path class="l" d="M485.0,648.5 L513.0,632.3" />
<path class="l" d="M513.0,629.2 L511.5,635.5" />
<path class="l2" d="M487.0,625.0 L487.5,623.2 L489.5,622.6 L490.0,623.8" />
<path class="l2" d="M508.0,613.5 L508.5,611.6 L510.5,611.0 L511.0,612.2" />
</g>
<g>
<path class="l2w" d="M616.0,550.1 C618.5,548.4 624.0,545.5 628.7,543.0 C633.4,540.5 643.9,535.1 647.2,533.5 C650.5,531.9 649.9,532.1 650.7,532.5 C651.5,532.9 652.3,534.0 652.5,536.1 C652.6,538.2 652.0,544.0 651.7,546.5 C651.4,549.0 651.4,550.9 650.7,552.8 C650.0,554.6 649.9,556.7 647.2,558.9 C644.5,561.1 637.3,564.7 632.7,567.5 C628.1,570.3 619.9,575.3 616.6,577.2 C613.3,579.2 611.8,580.5 610.5,580.8 C609.1,581.0 607.8,580.4 607.4,579.0 C607.0,577.6 607.5,573.6 607.7,571.5 C607.9,569.4 608.0,567.5 608.7,565.0 C609.4,562.5 611.1,556.7 612.2,554.5 C613.3,552.3 613.5,551.8 616.0,550.1Z" />
<path class="l" d="M617.2,552.5 C619.5,550.9 625.3,547.9 629.7,545.5 C634.1,543.1 643.8,537.9 646.7,536.5 C649.6,535.1 648.7,535.7 649.2,536.0 C649.7,536.3 650.2,536.9 650.2,538.5 C650.2,540.1 649.8,544.5 649.5,546.5 C649.2,548.5 649.1,550.4 648.5,552.0 C647.9,553.6 648.1,555.0 645.7,557.0 C643.3,559.0 637.0,562.4 632.7,565.0 C628.4,567.6 620.4,572.4 617.2,574.3 C614.1,576.2 612.8,577.2 611.7,577.5 C610.6,577.8 610.1,577.4 609.9,576.5 C609.7,575.6 610.0,573.2 610.2,571.5 C610.4,569.8 610.6,567.3 611.2,565.0 C611.8,562.7 613.3,557.9 614.2,556.0 C615.1,554.1 614.9,554.1 617.2,552.5Z" />
<path class="l2" d="M615.7,558.9 L648.1,540.5 L646.3,548.4 L615.7,565.0Z" />
<path class="l2" d="M613.1,571.1 L647.2,551.0 L643.7,559.8 L614.0,575.5Z" />
<path class="l" d="M617.2,561.5 L645.7,546.0" />
<path class="l" d="M644.2,542.7 L643.2,549.0" />
<path class="l" d="M614.7,573.0 L642.7,556.8" />
<path class="l" d="M642.7,553.7 L641.2,560.0" />
<path class="l2" d="M616.7,549.5 L617.2,547.7 L619.2,547.1 L619.7,548.3" />
<path class="l2" d="M637.7,538.0 L638.2,536.1 L640.2,535.5 L640.7,536.7" />
</g>
<g id="p26">
<path class="bk" d="M556.3,615.5 L557.8,615 L599.5,680 L593,684Z" />
<path class="bk" d="M587.2,598 L589.2,598 L600.5,681 L595,683Z" />
<path class="bk" d="M556,708.5 C566,698 580,688 596,681.5 C612,679 634,681 653,686.5 C634,684 614,685 598,687.5 C582,692 568,700 556,708.5Z" />
<path class="g" d="M552.0,611.0 C553.3,610.7 556.3,610.0 560.0,609.0 C563.7,608.0 570.2,607.0 574.0,605.0 C577.8,603.0 581.2,599.2 583.0,597.0 C584.8,594.8 583.8,593.3 585.0,592.0 C586.2,590.7 589.2,589.5 590.0,589.0 L590.5,596.0 C589.8,596.7 588.1,598.0 586.0,600.0 C583.9,602.0 581.3,605.8 578.0,608.0 C574.7,610.2 570.0,611.6 566.0,613.0 C562.0,614.4 556.0,615.8 554.0,616.3 L552,616Z" />
<circle cx="556.2" cy="612.6" r="1" class="lw"/>
<circle cx="587.8" cy="593.8" r="1" class="lw"/>
</g>
<g id="p32">
<path class="l2w" d="M563,717.2 L580,712.8 L582,727 L566,729.6 C562,729 561,719 563,717.2Z" />
<ellipse cx="585.3" cy="718.5" rx="7.4" ry="9.8" class="l2w" transform="rotate(-12 585.3 718.5)"/>
<ellipse cx="586.5" cy="718.3" rx="3.6" ry="5.6" class="l" transform="rotate(-12 586.5 718.3)"/>
<path class="l" d="M579.5,711.5 C579.2,712.2 577.8,714.1 577.5,716.0 C577.2,717.9 577.4,721.0 578.0,723.0 C578.6,725.0 580.5,727.2 581.0,728.0" />
<ellipse cx="604.3" cy="713.6" rx="7.8" ry="10.4" transform="rotate(-12 604.3 713.6)" class="l2w" style="stroke-width:2.3"/>
<ellipse cx="605" cy="713.4" rx="4.2" ry="6.2" transform="rotate(-12 605 713.4)" class="l2"/>
<ellipse cx="605.5" cy="713.2" rx="2.2" ry="3.6" transform="rotate(-12 605.5 713.2)" class="l"/>
<path class="l2w" d="M617,707.2 L636,702 L637.5,708.2 L618.5,713.4Z" />
<path class="l2" d="M618.5,706.8 L619.9,713.0" />
<path class="l2" d="M620.6,706.2 L622.0,712.4" />
<path class="l2" d="M622.7,705.7 L624.1,711.9" />
<path class="l2" d="M624.8,705.1 L626.2,711.3" />
<path class="l2" d="M626.9,704.5 L628.3,710.7" />
<path class="l2" d="M629.0,703.9 L630.4,710.1" />
<path class="l2" d="M631.1,703.4 L632.5,709.6" />
<path class="l2" d="M633.2,702.8 L634.6,709.0" />
<path class="l2" d="M635.3,702.2 L636.7,708.4" />
<ellipse cx="643" cy="704.6" rx="5" ry="6.6" transform="rotate(-15 643 704.6)" class="l2w"/>
<ellipse cx="644.2" cy="704.2" rx="2.6" ry="3.8" transform="rotate(-15 644.2 704.2)" class="l"/>
<path class="l" d="M638.5,700.5 C638.2,701.2 637.0,703.0 637.0,704.5 C637.0,706.0 638.2,708.7 638.5,709.5" />
<ellipse cx="660" cy="699.8" rx="5.6" ry="9.2" transform="rotate(-18 660 699.8)" class="l2"/>
</g>
<path class="ld" d="M679.6,594 L651.5,621.5 Q654.5,640 650,646.5 L626,657.5" />
<g id="car">
<path class="l" d="M157.0,631.0 L161.5,646.0" />
<path class="lw" d="M132.0,682.0 C129.3,687.5 128.1,685.5 127.0,688.0 C125.9,690.5 125.7,693.7 125.5,697.0 C125.3,700.3 125.4,704.8 126.0,708.0 C126.6,711.2 127.2,713.7 129.0,716.0 C130.8,718.3 133.5,719.2 137.0,722.0 C140.5,724.8 145.3,729.0 150.0,733.0 C154.7,737.0 161.0,742.5 165.0,746.0 C169.0,749.5 171.5,751.5 174.0,754.0 C176.5,756.5 177.3,759.4 180.0,761.0 C182.7,762.6 184.2,763.4 190.0,763.5 C195.8,763.6 207.3,762.5 215.0,761.5 C222.7,760.5 231.3,759.1 236.0,757.5 C240.7,755.9 241.5,754.6 243.0,752.0 C244.5,749.4 244.8,745.5 245.0,742.0 C245.2,738.5 244.8,734.7 244.0,731.0 C243.2,727.3 241.8,723.8 240.0,720.0 C238.2,716.2 235.0,711.8 233.0,708.0 C231.0,704.2 230.2,701.0 228.0,697.0 C225.8,693.0 223.8,689.2 220.0,684.0 C216.2,678.8 210.0,671.3 205.0,666.0 C200.0,660.7 194.3,655.6 190.0,652.0 C185.7,648.4 183.2,645.8 179.0,644.5 C174.8,643.2 169.8,643.9 165.0,644.5 C160.2,645.1 153.7,646.2 150.0,648.0 C146.3,649.8 146.0,649.3 143.0,655.0 C140.0,660.7 134.7,676.5 132.0,682.0Z" />
<path class="bk" d="M132.8,690.3 L131.9,681.9 L143,655.6 L150.6,649 L174,646.25 L178.75,650 L181.5,666.9 L179.7,674.4 L169.4,680 L139.4,688.4Z" />
<path class="th" d="M178.8,650.0 C180.6,651.2 186.0,653.7 190.0,657.0 C194.0,660.3 199.2,666.0 203.0,670.0 C206.8,674.0 210.9,679.2 212.5,681.0" />
<path class="l" d="M179.7,674.4 C182.2,674.0 190.2,671.7 195.0,672.0 C199.8,672.3 204.9,673.6 208.8,676.2 C212.6,678.9 214.9,683.6 218.0,688.0 C221.1,692.4 225.9,700.1 227.5,702.5" />
<path class="l" d="M175.0,685.6 C177.5,684.7 184.4,681.6 190.0,680.0 C195.6,678.4 205.6,676.9 208.8,676.2" />
<path class="l" d="M175.0,685.6 C175.5,687.7 176.4,693.3 178.0,698.0 C179.6,702.7 183.3,711.1 184.4,713.8" />
<path class="l2" d="M184.4,713.8 C187.0,713.4 194.9,712.6 200.0,711.5 C205.1,710.4 210.4,708.5 215.0,707.0 C219.6,705.5 225.4,703.2 227.5,702.5" />
<path class="l3" d="M182.5,716.0 C185.1,715.8 192.8,715.5 198.0,714.5 C203.2,713.5 208.8,711.5 214.0,710.0 C219.2,708.5 226.2,706.5 229.4,705.3 C232.6,704.1 232.4,703.4 233.0,703.0" />
<path class="l" d="M169.4,680.0 C169.8,682.0 170.7,687.7 172.0,692.0 C173.3,696.3 175.5,702.0 177.0,706.0 C178.5,710.0 180.3,714.3 181.0,716.0" />
<path class="l" d="M139.4,688.4 C140.5,689.8 142.9,693.4 146.0,697.0 C149.1,700.6 154.0,705.8 158.0,710.0 C162.0,714.2 166.8,718.8 170.0,722.0 C173.2,725.2 175.8,727.8 177.0,729.0" />
<path class="th" d="M143.0,690.0 C144.5,689.3 148.2,687.3 152.0,686.0 C155.8,684.7 163.7,682.7 166.0,682.0" />
<path class="l" d="M155.0,685.0 L160.0,700.0 L170.0,713.0" />
<path class="th" d="M146.0,691.0 C147.0,692.5 149.2,696.5 152.0,700.0 C154.8,703.5 159.7,708.7 163.0,712.0 C166.3,715.3 170.5,718.7 172.0,720.0" />
<path class="l" d="M136.0,693.0 C137.2,694.7 139.8,699.2 143.0,703.0 C146.2,706.8 150.8,711.7 155.0,716.0 C159.2,720.3 164.5,725.5 168.0,729.0 C171.5,732.5 174.7,735.7 176.0,737.0" />
<path class="l" d="M133.0,700.0 C134.3,701.8 137.7,707.0 141.0,711.0 C144.3,715.0 148.8,719.7 153.0,724.0 C157.2,728.3 162.5,733.5 166.0,737.0 C169.5,740.5 172.7,743.7 174.0,745.0" />
<path class="th" d="M158.0,703.0 L160.0,718.0" />
<path class="th" d="M147.0,698.0 L150.0,713.0" />
<ellipse cx="231.5" cy="697.8" rx="2.4" ry="1.8" class="l2" transform="rotate(-35 231.5 697.8)"/>
<path class="l" d="M167.0,709.0 L172.0,707.5 L174.0,711.0 L169.0,712.5Z" />
<path class="l" d="M181.0,716.0 C181.5,717.3 182.8,721.5 184.0,724.0 C185.2,726.5 187.3,729.8 188.0,731.0" />
<path class="l" d="M188.0,731.0 C190.0,730.3 194.7,728.3 200.0,727.0 C205.3,725.7 214.2,723.8 220.0,723.0 C225.8,722.2 231.5,721.5 235.0,722.0 C238.5,722.5 240.0,725.3 241.0,726.0" />
<path class="l2" d="M189.0,731.0 L194.0,730.0 L199.0,736.0 L197.0,741.0 L191.0,740.0Z" />
<path class="l2" d="M235.5,725.5 L240.0,724.5 L243.0,731.0 L239.5,733.0Z" />
<path class="l2" d="M203.0,729.0 L232.0,723.5 L234.0,733.5 L206.0,740.0Z" />
<path class="l" d="M204.0,730.8 L232.6,725.2" />
<path class="l" d="M204.5,732.6 L232.9,726.9" />
<path class="l" d="M205.0,734.4 L233.2,728.6" />
<path class="l" d="M205.5,736.2 L233.5,730.3" />
<path class="l" d="M206.0,738.0 L233.8,732.0" />
<path class="th" d="M207.2,728.2 L210.0,739.0" />
<path class="th" d="M211.4,727.4 L214.0,738.1" />
<path class="th" d="M215.6,726.6 L218.0,737.1" />
<path class="th" d="M219.8,725.8 L222.0,736.2" />
<path class="th" d="M224.0,725.0 L226.0,735.2" />
<path class="th" d="M228.2,724.2 L230.0,734.3" />
<path class="l2" d="M190.0,744.0 C192.5,743.9 199.2,744.2 205.0,743.5 C210.8,742.8 218.5,741.0 225.0,739.5 C231.5,738.0 240.8,735.3 244.0,734.5" />
<path class="l" d="M189.0,749.0 C191.7,749.0 198.8,749.7 205.0,749.0 C211.2,748.3 219.4,746.5 226.0,745.0 C232.6,743.5 241.4,740.8 244.5,740.0" />
<path class="l2" d="M190.0,755.5 C192.7,755.5 199.8,756.2 206.0,755.5 C212.2,754.8 220.6,753.0 227.0,751.5 C233.4,750.0 241.5,747.3 244.4,746.5" />
<path class="l" d="M203.0,751.0 L226.0,747.0 L226.5,750.0 L203.5,754.0Z" />
<path class="l2" d="M192.0,758.0 C195.0,758.2 203.3,759.5 210.0,759.0 C216.7,758.5 228.3,755.7 232.0,755.0" />
<ellipse cx="131" cy="705" rx="6" ry="11.5" class="l2w" transform="rotate(-8 131 705)" style="stroke-width:2.2"/>
<ellipse cx="131.5" cy="705" rx="3.4" ry="7.6" class="l" transform="rotate(-8 131.5 705)"/>
<ellipse cx="180.6" cy="750" rx="5.6" ry="8.6" class="l2w" transform="rotate(-8 180.6 750)"/>
<ellipse cx="181" cy="750" rx="3" ry="5.2" class="l" transform="rotate(-8 181 750)"/>
<path class="l2" d="M126.0,690.0 C126.8,689.8 129.2,688.5 131.0,689.0 C132.8,689.5 135.5,690.8 137.0,693.0 C138.5,695.2 139.5,698.8 140.0,702.0 C140.5,705.2 140.5,709.0 140.0,712.0 C139.5,715.0 137.5,718.7 137.0,720.0" />
<path class="l" d="M174.0,739.0 C175.0,738.8 178.0,737.5 180.0,738.0 C182.0,738.5 184.7,739.7 186.0,742.0 C187.3,744.3 187.7,750.3 188.0,752.0" />
</g>
<g id="leaders">
<path class="ld" d="M222,42 L267.5,55.6"/>
<path class="ld" d="M387,66 L430,50.4"/>
<path class="ld" d="M378,125.3 L421.5,111"/>
<path class="ld" d="M237.5,142.5 L267.5,130.5"/>
<path class="ld" d="M184.25,192 L234.5,193.5"/>
<path class="ld" d="M149,211 L184,228"/>
<path class="ld" d="M132,240 L183,270"/>
<path class="ld" d="M120,343 L178,338"/>
<path class="ld" d="M157.5,390 L207,418"/>
<path class="ld" d="M321,242 L379,234"/>
<path class="ld" d="M350,376 L380,387.5"/>
<path class="ld" d="M518.5,121.6 L507.8,159.6"/>
<path class="ld" d="M574.3,98 L610,126.4"/>
<path class="ld" d="M601.25,280 L601.25,313.75"/>
<path class="ld" d="M643,250 L653.75,273.75"/>
<path class="ld" d="M665,379 L678,403"/>
<path class="ld" d="M646,426 L669,445"/>
<path class="ld" d="M671,476 L677.5,506"/>
<path class="ld" d="M627,574.5 L626,601"/>
<path class="ld" d="M499.5,649.7 L504,676"/>
<path class="ld" d="M480,711 L467.5,742.5"/>
<path class="ld" d="M575,730 L580,760"/>
<path class="ld" d="M606,724 L614,754"/>
<path class="ld" d="M635,720 L645,742.5"/>
<path class="ld" d="M665,710 L676,726"/>
<path class="ld" d="M564,577.5 L575,604"/>
<path class="ld" d="M366.9,465 L391.25,441.9"/>
<path class="ld" d="M382.5,486.25 L405.6,463"/>
<path class="ld" d="M170,473.5 L198.5,503.5"/>
<path class="ld" d="M213.5,551.5 L244.25,521.5"/>
<path class="ld" d="M234.5,568 L266,536.5"/>
<path class="ld" d="M291.75,556.5 L259.5,588"/>
<path class="ld" d="M339,523 L363,551"/>
<path class="ld" d="M370,596 L375,638"/>
<path class="ld" d="M321.5,664.4 L372.25,689.75"/>
<path class="ld" d="M373.75,716 L343.75,739.4"/>
</g>
<g id="labels">
<text class="t" x="271.5" y="57.2" >19</text>
<text class="t" x="434" y="48.1" textLength="84" lengthAdjust="spacing">20a 20b 20c 20d</text>
<text class="t" x="425" y="109.1" >16</text>
<text class="t" x="268" y="127.6" textLength="87.5" lengthAdjust="spacing">20a 20b 20c 20d</text>
<text class="t" x="170" y="192.1" >16</text>
<text class="t" x="136" y="208.6" >27</text>
<text class="t" x="116" y="236.1" >15</text>
<text class="t" x="182" y="336.6" >11</text>
<text class="t" x="140" y="382.6" textLength="39" lengthAdjust="spacing">10a 10b</text>
<text class="t" x="382" y="234.1" >14</text>
<text class="t" x="336" y="377.1" >21</text>
<text class="t" x="517.5" y="114.6" >12</text>
<text class="t" x="608" y="130.6" >13</text>
<text class="t" x="535" y="278.6" >7</text>
<text class="t" x="598.5" y="274.4" >6</text>
<text class="t" x="632.5" y="236.6" >8</text>
<text class="t" x="672" y="413.35" >28</text>
<text class="t" x="670" y="450.35" >1</text>
<text class="t" x="674.5" y="514.6" >17</text>
<text class="t" x="165" y="472.1" >5</text>
<text class="t" x="248" y="517.6" >24</text>
<text class="t" x="268.75" y="532.1" >25</text>
<text class="t" x="293.75" y="554.1" >4</text>
<text class="t" x="328" y="517.6" >22</text>
<text class="t" x="353.75" y="471.1" >29</text>
<text class="t" x="374.4" y="492.1" >9</text>
<text class="t" x="369.5" y="647.2" >31</text>
<text class="t" x="375.5" y="690.6" >3</text>
<text class="t" x="373.4" y="711.6" textLength="56" lengthAdjust="spacing">2a 2b 2c 2d</text>
<text class="t" x="476" y="709.6" >36</text>
<text class="t" x="498.75" y="685.1" >23</text>
<text class="t" x="618" y="612.6" >23</text>
<text class="t" x="556" y="577.1" >26</text>
<text class="t" x="680.75" y="586.6" >18</text>
<text class="t" x="575.75" y="769.6" >32</text>
<text class="t" x="610" y="762.6" >35</text>
<text class="t" x="642.5" y="750.6" >34</text>
<text class="t" x="674" y="736.6" >33</text>
</g>
<g id="wm" opacity="0.075">
<circle cx="403" cy="367.5" r="82.5" fill="none" stroke="#000" stroke-width="13.5"/>
<path d="M438,347 A38.5,38.5 0 1 0 438,390" fill="none" stroke="#000" stroke-width="15"/>
<text x="165.5" y="527.5" font-family="'Liberation Sans',sans-serif" font-size="44px" fill="#000" stroke="#000" stroke-width="0.8" textLength="250" lengthAdjust="spacingAndGlyphs">COPYRIGHT</text>
<text x="428" y="527.5" font-family="'Liberation Sans',sans-serif" font-style="italic" font-weight="bold" font-size="44px" fill="#000" textLength="205" lengthAdjust="spacingAndGlyphs" opacity="0.4">ProVSP</text>
</g>
<circle cx="538.3" cy="275" r="13.2" fill="none" stroke="#d81f6b" stroke-width="3.8"/>
<path d="M539,288 L539,308" stroke="#d81f6b" stroke-width="3.2" fill="none"/>
<path d="M532,307 L546,307 L539,319.5Z" fill="#d81f6b"/>
<g id="logo" opacity="0.9">
<path d="M650,622.5 L656.5,596.5 Q680,592.5 724,595 L736,623" fill="none" stroke="#e0508a" stroke-opacity="0.85" stroke-width="2.3" stroke-linejoin="round" stroke-linecap="round"/>
<path class="nv" stroke-width="2.2" d="M660.5,602.5 L657.5,614 M660.5,602.5 Q690,599.5 722,600.8"/>
<path class="nv" stroke-width="2.8" d="M653,621 Q690,619.5 726,620.3 L724.5,614"/>
<path class="nv" stroke-width="2.6" d="M645,624 C644,615 637,613.5 632.5,616 C629,619 631,624 638,624.5"/>
<path class="nv" stroke-width="2.6" d="M739,626 C740,616 747,614 751.5,617 C754.5,621 750,626 744,626"/>
<path class="nv" stroke-width="2.2" d="M652,625 C655,632 662,638 668,640.5"/>
<path class="nv" stroke-width="2.6" d="M646,633 C651,632.5 661,637 666.5,645 C660,649.5 650,647.5 646.5,642 C645,639 645,636 646,633Z"/>
<path class="nv" stroke-width="2.2" d="M733,626 C730,633 723,638 716,641"/>
<path class="nv" stroke-width="2.6" d="M738,634 C733,633.5 723.5,637.5 717,645 C723,650 733,648.5 737,643 C738.5,640 738.5,636.5 738,634Z"/>
<path class="nv" stroke-width="3" d="M663,652 C675,655.5 685,655.5 695,655.2 C710,655 725,652.5 740,649.5"/>
<path class="nv" stroke-width="2" d="M741.5,634 C743.5,642 744.5,652 744,663"/>
<path class="nv" stroke-width="2" d="M640.5,632 C639,642 638.5,652 639.5,663"/>
<path class="nv" stroke-width="2.8" d="M645.5,658 C652,657 660,659.5 664,662.5"/>
<path class="nv" stroke-width="2.8" d="M740,657.5 C733,656.5 725,659.5 721,662"/>
<path class="nv" stroke-width="2.4" d="M670,661 C684,659.5 702,659.5 717,660.5"/>
<path d="M650,623 L627,656 L650,647 Q654,636 650,623Z" fill="#9a9aa6" fill-opacity="0.45"/>
<text x="625" y="720.5" font-family="'DejaVu Sans','Liberation Sans',sans-serif" font-style="italic" font-size="63px" fill="#43475f" stroke="#43475f" stroke-width="3.4" stroke-linejoin="round" textLength="121" lengthAdjust="spacingAndGlyphs">Pro</text>
<text x="625" y="765" font-family="'DejaVu Sans','Liberation Sans',sans-serif" font-style="italic" font-size="50.5px" fill="#63c3e4" stroke="#63c3e4" stroke-width="3.8" stroke-linejoin="round" textLength="133" lengthAdjust="spacingAndGlyphs">VSP</text>
<path d="M684,679.3 L692,679.3 M727,679.3 L735,679.3" stroke="#dc3f7e" stroke-width="1.1"/>
<text x="693" y="681.8" font-family="'Liberation Sans',sans-serif" font-weight="bold" font-style="italic" font-size="6.8px" fill="#dc3f7e" textLength="33" lengthAdjust="spacingAndGlyphs">GROUP</text>
<path d="M751,678.2 L759.3,683 L759.3,692.6 L751,697.4 L742.7,692.6 L742.7,683Z M751,683.4 A4.5,4.5 0 1 0 751.01,683.4Z" fill="#dc3f7e" fill-rule="evenodd" transform="rotate(12 751 687.8)"/>
</g>
<g transform="rotate(-45)">
<rect x="-700" y="253.1" width="1400" height="56.6" fill="#28b4e0" fill-opacity="0.49"/>
<text x="-174.7" y="288.5" font-family="'Liberation Sans',sans-serif" font-size="42px" fill="#fff" stroke="#fff" stroke-width="1.9" stroke-linejoin="round" textLength="381" lengthAdjust="spacingAndGlyphs">pro-piece-vsp.com</text>
</g>
</svg>
</body></html>
